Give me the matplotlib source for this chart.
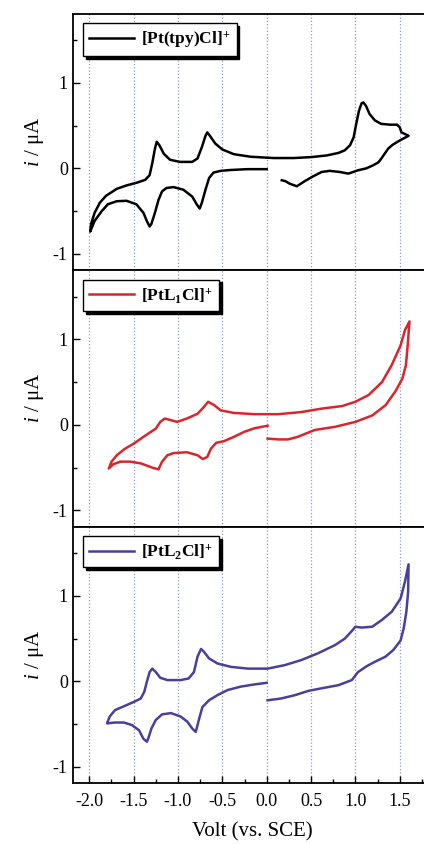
import matplotlib
matplotlib.use("Agg")
import matplotlib.pyplot as plt
import matplotlib.ticker as ticker

# cyclic voltammograms, one panel per complex (V vs. SCE, current in uA)
tpy_v = [0.00, -0.22, -0.41, -0.52, -0.60, -0.65, -0.69, -0.73, -0.755, -0.79,
         -0.84, -0.94, -1.05, -1.13, -1.18, -1.22, -1.26, -1.30, -1.32, -1.35,
         -1.39, -1.47, -1.58, -1.69, -1.79, -1.86, -1.94, -1.99,
         -1.98, -1.94, -1.88, -1.81, -1.69, -1.58, -1.47, -1.37, -1.32, -1.29,
         -1.26, -1.24, -1.21, -1.16, -1.09, -0.98, -0.84, -0.78, -0.73, -0.69,
         -0.67, -0.64, -0.58, -0.50, -0.37, -0.18, 0.08, 0.30, 0.49, 0.675,
         0.81, 0.88, 0.94, 0.98, 1.01, 1.04, 1.07, 1.09, 1.12, 1.16, 1.22,
         1.29, 1.39, 1.47, 1.50, 1.52, 1.60,
         1.50, 1.42, 1.37, 1.33, 1.29, 1.26, 1.20, 1.125, 1.03, 0.975, 0.92,
         0.825, 0.71, 0.62, 0.525, 0.43, 0.34, 0.26, 0.21, 0.17]
tpy_i = [-0.01, -0.01, -0.02, -0.03, -0.05, -0.115, -0.25, -0.40, -0.47, -0.42,
         -0.33, -0.25, -0.22, -0.23, -0.27, -0.37, -0.52, -0.65, -0.68, -0.62,
         -0.52, -0.42, -0.38, -0.385, -0.42, -0.50, -0.615, -0.74,
         -0.65, -0.52, -0.40, -0.32, -0.24, -0.20, -0.17, -0.135, -0.08, 0.06,
         0.23, 0.31, 0.27, 0.17, 0.10, 0.075, 0.075, 0.115, 0.25, 0.38,
         0.42, 0.38, 0.29, 0.22, 0.165, 0.135, 0.12, 0.12, 0.13, 0.15,
         0.18, 0.21, 0.27, 0.36, 0.52, 0.67, 0.76, 0.77, 0.73, 0.635, 0.56,
         0.52, 0.51, 0.51, 0.48, 0.42, 0.38,
         0.325, 0.275, 0.23, 0.17, 0.11, 0.07, 0.035, 0.0, -0.023, -0.043, -0.062,
         -0.043, -0.03, -0.043, -0.093, -0.15, -0.21, -0.18, -0.15, -0.14]

l1_v = [0.01, -0.14, -0.25, -0.37, -0.48, -0.57, -0.63, -0.67, -0.72, -0.78,
        -0.90, -1.05, -1.12, -1.18, -1.22, -1.29, -1.42, -1.54, -1.65, -1.73,
        -1.78,
        -1.75, -1.69, -1.60, -1.50, -1.39, -1.25, -1.20, -1.15, -1.08, -1.01,
        -0.90, -0.78, -0.725, -0.66, -0.59, -0.52, -0.37, -0.14, 0.13, 0.39,
        0.62, 0.85, 1.00, 1.15, 1.30, 1.41, 1.51, 1.56, 1.61,
        1.59, 1.57, 1.53, 1.45, 1.34, 1.19, 1.00, 0.77, 0.54, 0.35, 0.24,
        0.13, 0.01]
l1_i = [-0.01, -0.04, -0.08, -0.14, -0.19, -0.21, -0.28, -0.375, -0.40, -0.355,
        -0.32, -0.33, -0.355, -0.43, -0.52, -0.50, -0.45, -0.43, -0.43, -0.46,
        -0.51,
        -0.43, -0.355, -0.28, -0.22, -0.14, -0.043, 0.035, 0.074, 0.055, 0.035,
        0.074, 0.13, 0.19, 0.27, 0.23, 0.17, 0.14, 0.125, 0.125, 0.15,
        0.19, 0.22, 0.27, 0.35, 0.50, 0.70, 0.93, 1.11, 1.21,
        0.93, 0.70, 0.54, 0.39, 0.23, 0.11, 0.035, -0.023, -0.06, -0.14, -0.17,
        -0.17, -0.16]

l2_v = [0.00, -0.14, -0.29, -0.44, -0.555, -0.65, -0.725, -0.76, -0.80, -0.84,
        -0.895, -0.97, -1.08, -1.18, -1.25, -1.30, -1.33, -1.35, -1.39, -1.44,
        -1.52, -1.61, -1.71, -1.80,
        -1.77, -1.71, -1.61, -1.50, -1.42, -1.38, -1.35, -1.32, -1.29, -1.25,
        -1.20, -1.12, -0.97, -0.88, -0.82, -0.78, -0.74, -0.71, -0.65, -0.555,
        -0.40, -0.21, 0.01, 0.20, 0.39, 0.58, 0.77, 0.88, 0.96, 1.00, 1.07,
        1.19, 1.30, 1.41, 1.51, 1.56, 1.60,
        1.595, 1.575, 1.545, 1.51, 1.43, 1.34, 1.22, 1.13, 1.03, 0.96, 0.81,
        0.62, 0.47, 0.32, 0.16, 0.01]
l2_i = [-0.016, -0.035, -0.06, -0.10, -0.16, -0.22, -0.30, -0.43, -0.59, -0.55,
        -0.47, -0.41, -0.37, -0.385, -0.45, -0.55, -0.65, -0.705, -0.67, -0.57,
        -0.51, -0.48, -0.48, -0.49,
        -0.41, -0.335, -0.29, -0.24, -0.20, -0.12, 0.0, 0.11, 0.15, 0.11,
        0.043, 0.016, 0.016, 0.035, 0.11, 0.29, 0.38, 0.35, 0.27, 0.21,
        0.17, 0.15, 0.15, 0.19, 0.25, 0.33, 0.425, 0.50, 0.59, 0.64, 0.63,
        0.64, 0.72, 0.815, 0.97, 1.17, 1.37,
        1.05, 0.815, 0.62, 0.48, 0.37, 0.29, 0.23, 0.18, 0.11, 0.016, -0.043,
        -0.08, -0.11, -0.16, -0.20, -0.22]

labels = [r"[Pt(tpy)Cl]$^{+}$", r"[PtL$_{1}$Cl]$^{+}$", r"[PtL$_{2}$Cl]$^{+}$"]
colors = ["black", "#d8262c", "#4a3f9c"]
x_ticks = [-2.0, -1.5, -1.0, -0.5, 0.0, 0.5, 1.0, 1.5]
y_ticks = [-1, 0, 1]

plt.rcParams['font.family'] = 'Liberation Serif'
plt.rcParams['mathtext.fontset'] = 'custom'
plt.rcParams['mathtext.rm'] = 'Liberation Serif:bold'
plt.rcParams['mathtext.it'] = 'Liberation Serif:italic'
plt.rcParams['axes.unicode_minus'] = False
plt.rcParams['xtick.direction'] = 'in'
plt.rcParams['ytick.direction'] = 'in'
plt.rcParams['axes.linewidth'] = 1.3

fig = plt.figure(figsize=(4.24, 8.44), dpi=100)
left, bottom, top, width = 0.173, 0.072, 0.984, 0.845
h = (top - bottom) / 3

curves = [(tpy_v, tpy_i), (l1_v, l1_i), (l2_v, l2_i)]
for k, (v, cur) in enumerate(curves):
    ax = fig.add_axes([left, top - (k + 1) * h, width, h])
    ax.plot(v, cur, color=colors[k], lw=1.8, label=labels[k],
            solid_joinstyle='round')
    ax.set_xlim(-2.18, 1.86)
    ax.set_ylim(-1.19, 1.81)
    ax.set_xticks(x_ticks)
    ax.xaxis.set_minor_locator(ticker.MultipleLocator(0.25))
    ax.set_yticks(y_ticks)
    ax.yaxis.set_minor_locator(ticker.MultipleLocator(0.5))
    ax.xaxis.grid(True, which='major', linestyle=':', color='#8e98c8', lw=0.9)
    ax.tick_params(axis='y', which='major', length=5, width=1, pad=4,
                   labelsize=13)
    ax.tick_params(axis='y', which='minor', length=3, width=1)
    ax.tick_params(axis='x', which='major', length=5, width=1, pad=7,
                   labelsize=13)
    ax.tick_params(axis='x', which='minor', length=3, width=1)
    ax.spines['right'].set_visible(False)
    ax.set_ylabel(r"$i$ / μA", fontsize=15)
    ax.yaxis.set_label_coords(-0.075, 0.5)
    if k < 2:
        ax.tick_params(axis='x', which='both', bottom=False, labelbottom=False)
    else:
        ax.set_xlabel("Volt (vs. SCE)", fontsize=15, labelpad=9)
    ax.legend(loc='upper left', fancybox=False, edgecolor='black',
              framealpha=1, borderaxespad=0.55, handlelength=2.6,
              handletextpad=0.4, borderpad=0.35,
              prop={'weight': 'bold', 'size': 12.5},
              shadow={'facecolor': 'black', 'edgecolor': 'black', 'alpha': 1})

fig.savefig("out.png", dpi=100)
